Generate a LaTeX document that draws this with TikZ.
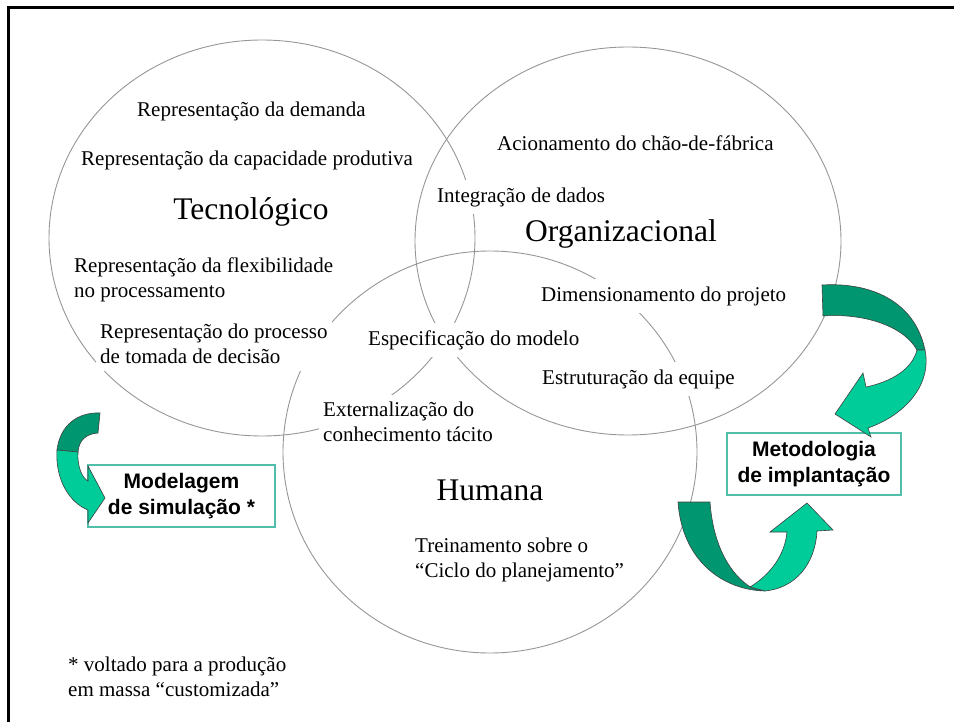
\documentclass[tikz,border=0pt]{standalone}
\usepackage{fontspec}
\usetikzlibrary{shapes.geometric}
\setmainfont{Liberation Serif}
\newfontfamily\boxfont{Liberation Sans}
\definecolor{arrowdark}{RGB}{0,150,112}
\definecolor{arrowlight}{RGB}{0,204,153}
\definecolor{boxline}{RGB}{80,190,168}
\definecolor{ringgray}{RGB}{150,150,150}

\begin{document}
\begin{tikzpicture}
        [x=1pt, y=-1pt,
        ring/.style={draw=ringgray, line width=0.9pt, shape=ellipse, inner sep=0},
        lbl/.style={fill=white, inner xsep=4pt, inner ysep=7pt, anchor=west, align=left, font=\fontsize{21}{25}\selectfont},
        title/.style={fill=white, inner sep=3pt, font=\fontsize{31.5}{36}\selectfont},
        resultbox/.style={draw=boxline, line width=1.5pt, fill=white, align=center, minimum height=62pt, font=\boxfont\bfseries\fontsize{21}{26}\selectfont},
        backpart/.style={fill=arrowdark, draw=black!75, line width=0.6pt},
        frontpart/.style={fill=arrowlight, draw=black!75, line width=0.6pt}]

        \useasboundingbox (0,0) rectangle (954,722);
        \draw[line width=3pt] (8.5,722) -- (8.5,7.5) -- (954,7.5);

        \node[ring, minimum width=426pt, minimum height=396pt] (tec) at (262, 238) {};
        \node[ring, minimum width=426pt, minimum height=388pt] (org) at (628, 241) {};
        \node[ring, minimum width=414pt, minimum height=402pt] (hum) at (490, 452) {};

        \node[lbl] (demanda) at (133, 111) {Representação da demanda};
        \node[lbl] (capacidade) at (77, 160) {Representação da capacidade produtiva};
        \node[title] (tecnologico) at (251, 212) {Tecnológico};
        \node[lbl] (flexibilidade) at (70, 279.5) {Representação da flexibilidade\\no processamento};
        \node[lbl] (decisao) at (96, 344) {Representação do processo\\de tomada de decisão};

        \node[lbl] (acionamento) at (493, 143) {Acionamento do chão-de-fábrica};
        \node[lbl] (integracao) at (433, 197) {Integração de dados};
        \node[title] (organizacional) at (621, 234) {Organizacional};
        \node[lbl] (dimensionamento) at (537, 296) {Dimensionamento do projeto};
        \node[lbl] (especificacao) at (364, 340) {Especificação do modelo};
        \node[lbl] (estruturacao) at (538, 379) {Estruturação da equipe};

        \node[lbl] (externalizacao) at (319, 421.5) {Externalização do\\conhecimento tácito};
        \node[title] (humana) at (490, 490) {Humana};
        \node[lbl] (treinamento) at (411, 559.5) {Treinamento sobre o\\“Ciclo do planejamento”};

        \node[lbl, fill=none] (nota) at (64, 677) {* voltado para a produção\\em massa “customizada”};

        \node[resultbox, minimum width=187pt] (modelagem) at (181.5, 496) {Modelagem\\de simulação *};
        \node[resultbox, minimum width=174pt] (metodologia) at (814, 464) {Metodologia\\de implantação};

        \draw[backpart] (100,413) .. controls (78,412) and (60,425) .. (57,450) -- (78,452)
          .. controls (79,440) and (86,434) .. (98,433) -- cycle;
        \draw[frontpart] (57,450) .. controls (55,480) and (70,503) .. (88,510) -- (88,523) -- (105,498)
          -- (88,466) -- (88,481) .. controls (82,478) and (77,466) .. (78,452) -- cycle;

        \draw[backpart] (822,285) .. controls (872,282) and (915,302) .. (925,350) -- (917,350)
          .. controls (903,325) and (862,313) .. (823,316) -- cycle;
        \draw[frontpart] (925,350) .. controls (932,385) and (905,415) .. (868,428) -- (871,437) -- (835,414)
          -- (863,373) -- (866,387) .. controls (890,382) and (912,370) .. (917,350) -- cycle;

        \draw[backpart] (678,502) -- (710,502) .. controls (713,545) and (730,575) .. (752,588)
          -- (765,591) .. controls (722,590) and (682,560) .. (678,502) -- cycle;
        \draw[frontpart] (750,587) .. controls (770,575) and (785,555) .. (787,532) -- (770,532) -- (807,503)
          -- (833,530) -- (817,531) .. controls (815,565) and (795,588) .. (765,591) -- cycle;

      \end{tikzpicture}
\end{document}
